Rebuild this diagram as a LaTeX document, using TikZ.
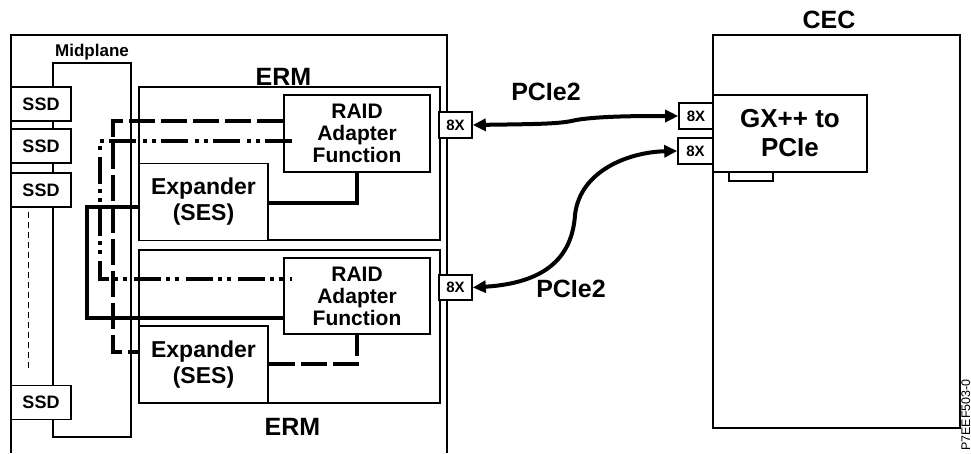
\documentclass[tikz,border=0pt]{standalone}
\usepackage{fontspec}
\setmainfont{Liberation Sans}
\usetikzlibrary{arrows.meta,calc}
\begin{document}
\begin{tikzpicture}[x=1pt,y=-1pt,
  thinl/.style={line width=1.6pt},
  box/.style={draw,line width=1.6pt,fill=white,inner sep=0pt,align=center,font=\bfseries},
  wire/.style={line width=4pt},
  dashw/.style={wire,dash pattern=on 26pt off 6pt},
  ddw/.style={wire,dash pattern=on 27pt off 5pt on 4pt off 5pt on 4pt off 7pt},
  pcie/.style={line width=4pt,{Triangle[length=13pt,width=12pt]}-{Triangle[length=13pt,width=12pt]}},
  lbl/.style={font=\bfseries\fontsize{25}{25}\selectfont,inner sep=0pt,anchor=base},
  ssdbox/.style={box,minimum width=60pt,minimum height=34pt,font=\bfseries\fontsize{18}{18}\selectfont},
  erm/.style={box,minimum width=301pt,minimum height=153pt},
  raidbox/.style={box,minimum width=146pt,minimum height=77pt,font=\bfseries\fontsize{21}{22}\selectfont},
  expbox/.style={box,minimum width=129pt,minimum height=77pt,font=\bfseries\fontsize{23}{26}\selectfont},
  port/.style={box,minimum width=34pt,minimum height=26pt,font=\bfseries\fontsize{15}{15}\selectfont}
]
\useasboundingbox (0,0) rectangle (971,453);
% outer enclosure (open at bottom)
\draw[thinl] (11,453) -- (11,35) -- (447,35) -- (447,453);
\node[lbl,font=\bfseries\fontsize{17}{17}\selectfont] (midlbl) at (92,56) {Midplane};
% midplane
\node[box,minimum width=78pt,minimum height=374pt] (mid) at (92,250) {};
% SSDs
\node[ssdbox] (ssd1) at (41,104) {SSD};
\node[ssdbox] (ssd2) at (41,146) {SSD};
\node[ssdbox] (ssd3) at (41,190) {SSD};
\node[ssdbox] (ssd4) at (41,402.5) {SSD};
\draw[line width=1pt,dash pattern=on 6pt off 4pt] ([xshift=-13pt,yshift=-4pt]ssd3.south) -- ([xshift=-13pt,yshift=17pt]ssd4.north);
% ERMs
\node[lbl] (ermlbl1) at (283.5,85) {ERM};
\node[lbl] (ermlbl2) at (292.5,435) {ERM};
\node[erm] (erm1) at (289.5,163.5) {};
\node[erm] (erm2) at (289.5,326.5) {};
\node[raidbox] (raid1) at (357,133.5) {RAID\\Adapter\\Function};
\node[expbox] (exp1) at (203.5,202) {Expander\\(SES)};
\node[raidbox,minimum height=76pt] (raid2) at (357,296) {RAID\\Adapter\\Function};
\node[expbox] (exp2) at (203.5,364.5) {Expander\\(SES)};
\node[port,minimum width=33pt] (e1) at (455.5,125) {8X};
\node[port,minimum width=33pt,minimum height=25pt] (e2) at (455.5,287.5) {8X};
% CEC
\node[lbl] (ceclbl) at (829,28) {CEC};
\node[box] (cec) at (836.5,231.5) [minimum width=247pt,minimum height=393pt] {};
\node[box,minimum width=44pt,minimum height=9pt] (tab) at (751,176.5) {};
\node[box,minimum width=154pt,minimum height=77pt,font=\bfseries\fontsize{26}{29}\selectfont] (gx) at (790,133.5) {GX++ to\\PCIe};
\node[port] (c1) at (696,116) {8X};
\node[port,minimum width=35pt] (c2) at (695.5,151) {8X};
% internal wiring
\draw[wire] (exp1.east |- 0,203) -| (raid1.south);
\draw[wire] (exp1.west |- 0,207) -- (87,207) |- (raid2.west |- 0,318);
\draw[dashw] (raid1.west |- 0,121) -| (113,352) -- (exp2.west |- 0,352);
\draw[dashw] (exp2.east |- 0,364) -| (raid2.south);
\draw[ddw] ($(raid1.west |- 0,141)+(9,0)$) -| (100,279) -- ($(raid2.west |- 0,279)+(9,0)$);
% PCIe links
\draw[pcie] (e1.east) .. controls (540,124) and (560,124) .. (576,120) .. controls (600,116) and (640,116) .. (c1.west);
\draw[pcie] (e2.east) .. controls (545,283) and (572,258) .. (575,215) .. controls (580,170) and (630,152) .. (c2.west);
\node[lbl] (p1) at (546,100) {PCIe2};
\node[lbl] (p2) at (571,297) {PCIe2};
% figure id
\node[rotate=90,anchor=base west,inner sep=0pt,font=\fontsize{12.5}{12.5}\selectfont] (figid) at (970,451) {P7EEF503-0};
\end{tikzpicture}
\end{document}
